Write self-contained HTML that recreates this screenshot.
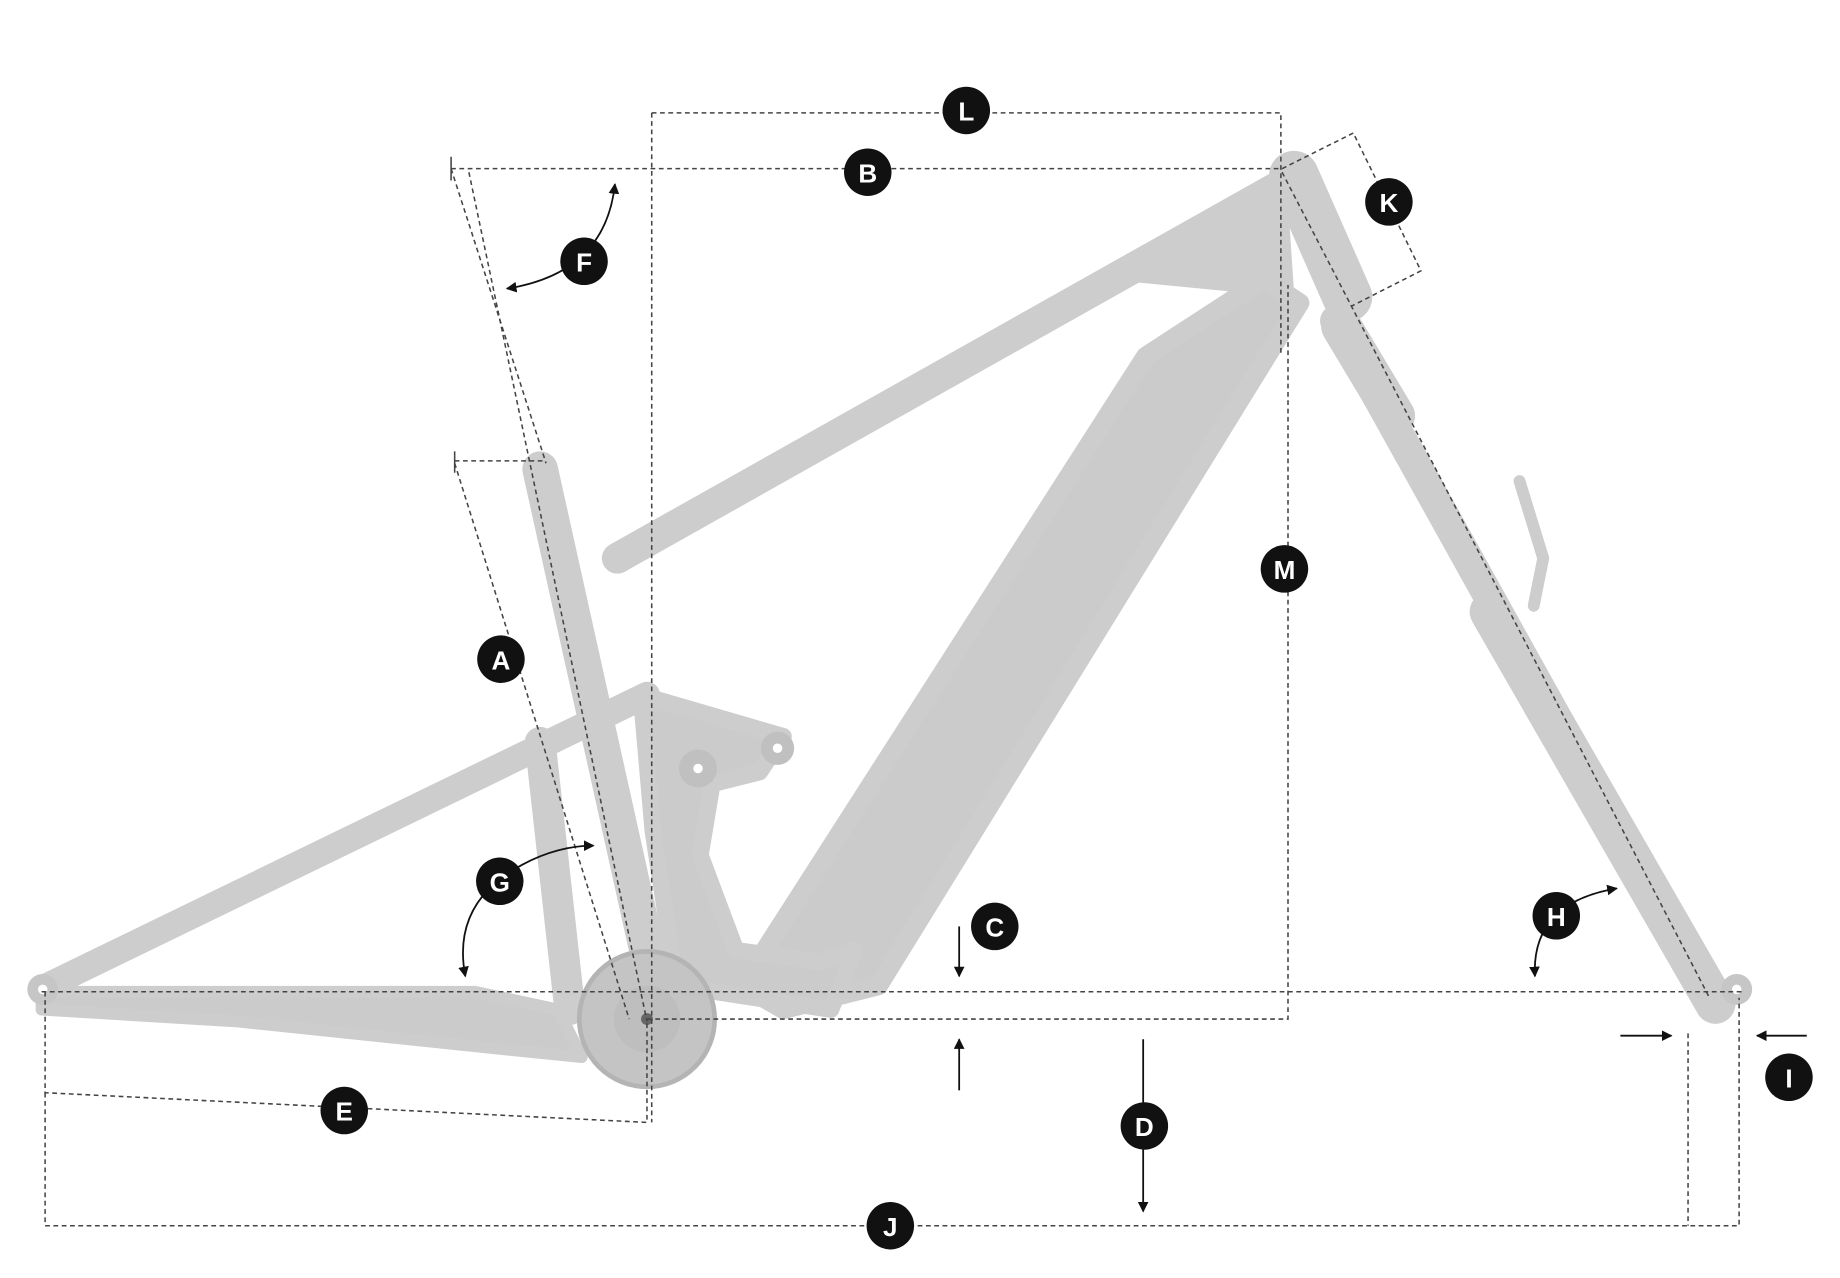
<!DOCTYPE html>
<html><head><meta charset="utf-8"><style>
html,body{margin:0;padding:0;background:#fff;}
svg{display:block}
text{font-family:"Liberation Sans",sans-serif;font-weight:bold;fill:#fff;font-size:22px;text-anchor:middle;dominant-baseline:central}
</style></head><body>
<svg width="1840" height="1278" viewBox="0 0 1550 1076" preserveAspectRatio="none" xmlns="http://www.w3.org/2000/svg">
<defs>
<marker id="ar" viewBox="0 0 10 10" refX="9" refY="5" markerWidth="6" markerHeight="6" orient="auto-start-reverse"><path d="M0,0L10,5L0,10z" fill="#111"/></marker>
</defs>
<rect width="1550" height="1076" fill="#fff"/>
<g stroke="#cdcdcd" stroke-linecap="round" fill="none">
  <line x1="1125" y1="270" x2="1445" y2="845" stroke-width="26"/>
  <line x1="1130" y1="275" x2="1175" y2="350" stroke-width="34"/>
  <line x1="1255" y1="515" x2="1445" y2="845" stroke-width="34"/>
  <path d="M1280,405 L1300,470 L1292,510" stroke-width="10"/>
  <line x1="1090" y1="148" x2="1135" y2="250" stroke-width="42"/>
  <line x1="1075" y1="158" x2="520" y2="470" stroke-width="26"/>
  <path d="M1080,170 L950,232 L1085,245 Z" fill="#cdcdcd" stroke-width="10"/>
  <path d="M1065,235 L1095,255 L740,830 L660,850 L625,830 L965,300 Z" fill="#cbcbcb" stroke-width="16" stroke-linejoin="round"/>
  <line x1="455" y1="395" x2="545" y2="800" stroke-width="30"/>
  <line x1="40" y1="830" x2="545" y2="585" stroke-width="22"/>
  <line x1="455" y1="625" x2="480" y2="850" stroke-width="26"/>
  <path d="M540,585 L660,620 L640,650 L600,660 L590,720 L620,800 L690,810 L720,800 L700,850 L570,830 L550,700 Z" fill="#cbcbcb" stroke-width="14" stroke-linejoin="round"/>
  <path d="M35,835 L400,835 L470,850 L490,890 L440,885 L200,860 L35,850 Z" fill="#cbcbcb" stroke-width="10" stroke-linejoin="round"/>
</g>
<circle cx="655" cy="630" r="14" fill="#c0c0c0"/><circle cx="655" cy="630" r="4" fill="#fff"/>
<circle cx="588" cy="647" r="16" fill="#c0c0c0"/><circle cx="588" cy="647" r="4" fill="#fff"/>
<circle cx="545" cy="858" r="57" fill="#c4c4c4" stroke="#b4b4b4" stroke-width="4"/>
<circle cx="545" cy="858" r="28" fill="#bebebe"/>
<circle cx="545" cy="858" r="5" fill="#666"/>
<circle cx="36" cy="833" r="13" fill="#c6c6c6"/><circle cx="36" cy="833" r="4" fill="#fff"/>
<circle cx="1463" cy="833" r="13" fill="#c6c6c6"/><circle cx="1463" cy="833" r="4" fill="#fff"/>
<g stroke="#444" stroke-width="1.3" stroke-dasharray="4,3" fill="none">
  <path d="M549,95 H1079 V300"/>
  <line x1="549" y1="95" x2="549" y2="945"/>
  <line x1="380" y1="142" x2="1080" y2="142"/>
  <line x1="380" y1="142" x2="460" y2="390"/>
  <line x1="395" y1="145" x2="545" y2="860"/>
  <path d="M383,388 H460"/>
  <line x1="383" y1="390" x2="530" y2="858"/>
  <line x1="35" y1="835" x2="1470" y2="835"/>
  <path d="M545,858 H1085 V240"/>
  <path d="M38,835 V920 L545,945 V858"/>
  <path d="M38,920 V1032 H1465 V840"/>
  <line x1="1422" y1="870" x2="1422" y2="1032"/>
  <line x1="1080" y1="145" x2="1440" y2="840"/>
  <path d="M1080,142 L1140,112 L1197,228 L1138,258"/>
</g>
<line x1="380" y1="132" x2="380" y2="152" stroke="#444" stroke-width="1.3"/>
<line x1="383" y1="380" x2="383" y2="398" stroke="#444" stroke-width="1.3"/>
<g stroke="#111" stroke-width="1.5" fill="none" marker-end="url(#ar)">
  <line x1="963" y1="875" x2="963" y2="1020"/>
  <line x1="808" y1="780" x2="808" y2="822"/>
  <line x1="808" y1="918" x2="808" y2="875"/>
  <line x1="1365" y1="872" x2="1408" y2="872"/>
  <line x1="1522" y1="872" x2="1480" y2="872"/>
  <path d="M427,243 Q510,230 518,155" marker-start="url(#ar)"/>
  <path d="M392,822 Q380,760 440,728 Q470,712 500,712" marker-start="url(#ar)"/>
  <path d="M1293,822 Q1290,760 1362,748" marker-start="url(#ar)"/>
</g>
<g>
  <circle cx="814" cy="93" r="20" fill="#111"/><text x="814" y="94">L</text>
  <circle cx="731" cy="145" r="20" fill="#111"/><text x="731" y="146">B</text>
  <circle cx="1170" cy="170" r="20" fill="#111"/><text x="1170" y="171">K</text>
  <circle cx="492" cy="220" r="20" fill="#111"/><text x="492" y="221">F</text>
  <circle cx="1082" cy="479" r="20" fill="#111"/><text x="1082" y="480">M</text>
  <circle cx="422" cy="555" r="20" fill="#111"/><text x="422" y="556">A</text>
  <circle cx="421" cy="742" r="20" fill="#111"/><text x="421" y="743">G</text>
  <circle cx="838" cy="780" r="20" fill="#111"/><text x="838" y="781">C</text>
  <circle cx="1311" cy="771" r="20" fill="#111"/><text x="1311" y="772">H</text>
  <circle cx="1507" cy="907" r="20" fill="#111"/><text x="1507" y="908">I</text>
  <circle cx="964" cy="948" r="20" fill="#111"/><text x="964" y="949">D</text>
  <circle cx="290" cy="935" r="20" fill="#111"/><text x="290" y="936">E</text>
  <circle cx="750" cy="1032" r="20" fill="#111"/><text x="750" y="1033">J</text>
</g>
</svg>
</body></html>
